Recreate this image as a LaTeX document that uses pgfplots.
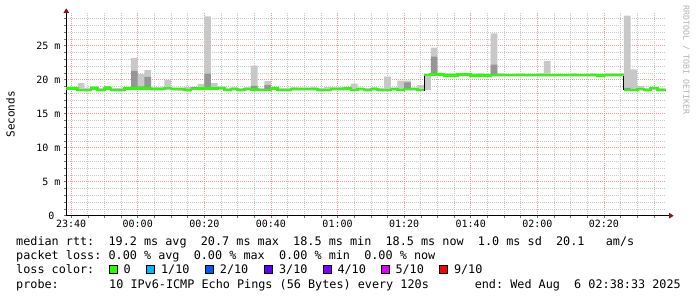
\documentclass[border=0pt]{standalone}
\usepackage{pgfplots}
\pgfplotsset{compat=1.18}
\usepackage{pgfplotstable}
\usepgfplotslibrary{fillbetween}
\usetikzlibrary{arrows.meta}
\usepackage{fontspec}
\setmainfont{DejaVu Sans Mono}
\newfontfamily\mono{DejaVu Sans Mono}
\newcommand\legfont{\mono\fontsize{11.8bp}{14bp}\selectfont}
\newcommand\tickfont{\mono\fontsize{10bp}{12bp}\selectfont}
\definecolor{mgrid}{RGB}{232,150,150}
\definecolor{sgrid}{RGB}{200,200,200}
\definecolor{smokeA}{RGB}{200,200,200}
\definecolor{smokeB}{RGB}{150,150,150}
\definecolor{medgreen}{RGB}{38,255,0}
\definecolor{lossA}{RGB}{0,184,255}
\definecolor{lossB}{RGB}{0,89,255}
\definecolor{lossC}{RGB}{94,0,255}
\definecolor{lossD}{RGB}{126,0,255}
\definecolor{lossE}{RGB}{221,0,255}
\definecolor{lossF}{RGB}{255,0,0}
\definecolor{arrowred}{RGB}{140,20,20}

\pgfplotstableread{
s    med    lo     hi     mlo    mhi
-22  18.70  18.45  18.95  18.70  18.70
-20  18.70  18.45  18.95  18.70  18.70
-18  18.45  18.30  19.50  18.45  18.45
-16  18.45  18.25  18.80  18.45  18.45
-14  18.70  18.45  18.97  18.60  18.97
-12  18.45  18.25  18.75  18.45  18.45
-10  18.70  18.45  19.07  18.60  19.00
-8   18.45  18.25  18.75  18.45  18.45
-6   18.45  18.25  18.75  18.45  18.45
-4   18.70  18.45  18.95  18.70  18.70
-2   18.70  18.45  23.20  18.70  21.30
0    18.70  18.45  20.80  18.70  19.00
2    18.70  18.45  21.40  18.70  20.40
4    18.60  18.40  18.90  18.60  18.60
6    18.60  18.40  18.90  18.60  18.60
8    18.75  18.50  19.95  18.75  18.75
10   18.60  18.40  18.85  18.60  18.60
12   18.60  18.35  18.85  18.60  18.60
14   18.45  18.25  18.90  18.45  18.45
16   18.65  18.45  18.95  18.60  18.90
18   18.70  18.45  19.35  18.70  18.70
20   18.70  18.45  29.30  18.70  20.90
22   18.70  18.45  19.50  18.70  18.70
24   18.75  18.50  19.00  18.75  18.75
26   18.50  18.30  18.80  18.50  18.50
28   18.60  18.40  18.90  18.60  18.60
30   18.45  18.25  18.75  18.45  18.45
32   18.60  18.40  18.90  18.60  18.60
34   18.55  18.35  22.06  18.55  19.07
36   18.50  18.30  18.80  18.50  18.50
38   18.50  18.30  19.80  18.50  19.20
40   18.70  18.45  18.95  18.70  18.70
42   18.45  18.25  18.75  18.45  18.45
44   18.45  18.25  18.75  18.45  18.45
46   18.60  18.40  18.90  18.60  18.60
48   18.60  18.40  18.85  18.60  18.60
50   18.60  18.40  18.85  18.60  18.60
52   18.60  18.40  18.90  18.60  18.60
54   18.45  18.25  18.75  18.45  18.45
56   18.45  18.25  18.90  18.45  18.45
58   18.60  18.40  18.90  18.60  18.60
60   18.60  18.40  18.90  18.60  18.60
62   18.70  18.45  18.95  18.70  18.70
64   18.50  18.30  19.40  18.50  18.50
66   18.60  18.40  18.85  18.60  18.60
68   18.45  18.25  18.75  18.45  18.45
70   18.60  18.40  18.90  18.60  18.60
72   18.45  18.25  18.75  18.45  18.45
74   18.45  18.25  20.45  18.45  18.45
76   18.60  18.40  18.85  18.60  18.60
78   18.50  18.30  19.85  18.50  18.50
80   18.60  18.40  19.85  18.60  19.60
82   18.60  18.40  18.85  18.60  18.60
84   18.45  18.45  19.20  18.45  18.45
86   20.70  18.50  20.90  20.70  20.70
88   20.80  20.55  24.70  20.80  23.40
90   20.80  20.55  21.00  20.80  20.80
92   20.60  20.40  21.00  20.60  20.60
94   20.60  20.40  20.95  20.60  20.60
96   20.75  20.50  20.95  20.75  20.75
98   20.75  20.50  20.95  20.75  20.75
100  20.65  20.45  20.90  20.65  20.65
102  20.65  20.45  20.95  20.65  20.65
104  20.60  20.40  20.85  20.60  20.60
106  20.70  20.45  26.80  20.70  22.20
108  20.70  20.45  20.95  20.70  20.70
110  20.70  20.45  20.90  20.70  20.70
112  20.70  20.45  20.90  20.70  20.70
114  20.70  20.45  20.95  20.70  20.70
116  20.70  20.45  20.90  20.70  20.70
118  20.70  20.45  20.90  20.70  20.70
120  20.70  20.45  20.95  20.70  20.70
122  20.70  20.45  22.75  20.70  20.70
124  20.70  20.45  20.90  20.70  20.70
126  20.70  20.45  20.90  20.70  20.70
128  20.70  20.45  20.90  20.70  20.70
130  20.70  20.45  20.95  20.70  20.70
132  20.70  20.45  20.90  20.70  20.70
134  20.70  20.45  20.90  20.70  20.70
136  20.70  20.45  20.95  20.70  20.70
138  20.60  20.40  20.85  20.60  20.60
140  20.70  20.45  20.95  20.70  20.70
142  20.70  20.45  20.95  20.70  20.70
144  20.70  20.45  20.95  20.70  20.70
146  18.50  18.40  29.40  18.50  18.80
148  18.45  18.30  21.50  18.45  18.45
150  18.60  18.40  19.10  18.60  18.60
152  18.45  18.25  18.75  18.45  18.45
154  18.75  18.50  18.95  18.75  18.75
156  18.45  18.25  18.75  18.45  18.45
158  18.45  18.25  18.75  18.45  18.45
160  18.45  18.25  18.75  18.45  18.45
}\smoke

\begin{document}
\begin{tikzpicture}
\path (0,0) rectangle (697bp,297bp);
\begin{axis}[
  at={(66.3bp,81.3bp)}, anchor=south west,
  scale only axis, width=599.4bp, height=202.7bp,
  xmin=-21.45, xmax=158.55, ymin=0, ymax=29.8,
  enlargelimits=false,
  axis lines=left,
  axis line style={black, line width=0.9bp},
  x axis line style={-{Triangle[width=5.4bp,length=4.5bp,color=arrowred]}, shorten >=-8bp},
  y axis line style={-{Triangle[width=5.4bp,length=4.5bp,color=arrowred]}, shorten >=-4.7bp},
  xtick={-20,0,20,40,60,80,100,120,140},
  xticklabels={23:40,00:00,00:20,00:40,01:00,01:20,01:40,02:00,02:20},
  minor xtick={-15,-10,-5,5,10,15,25,30,35,45,50,55,65,70,75,85,90,95,105,110,115,125,130,135,145,150,155},
  ytick={0,5,10,15,20,25},
  yticklabels={0~~,5~m,10~m,15~m,20~m,25~m},
  minor ytick={1,2,3,4,6,7,8,9,11,12,13,14,16,17,18,19,21,22,23,24,26,27,28,29},
  grid=both,
  major grid style={mgrid, line width=0.6bp, dash pattern=on 1bp off 1bp},
  minor grid style={sgrid, line width=0.6bp, dash pattern=on 1bp off 1bp},
  tick align=outside,
  major tick length=2bp, minor tick length=2bp,
  tick style={black!55, line width=0.5bp},
  xticklabel style={font=\tickfont, inner sep=0pt, anchor=north, yshift=-2.5bp},
  yticklabel style={font=\tickfont, inner sep=0pt, anchor=east, xshift=-3.6bp},
  ylabel={Seconds},
  every axis y label/.style={at={(axis description cs:0,0.5)}, xshift=-55.8bp, rotate=90, anchor=center, font=\mono\fontsize{11bp}{13bp}\selectfont},
]
\addplot[const plot, draw=none, name path=hiA, forget plot] table[x=s,y=hi]{\smoke};
\addplot[const plot, draw=none, name path=loA, forget plot] table[x=s,y=lo]{\smoke};
\addplot[fill=smokeA, draw=none, forget plot] fill between[of=hiA and loA];
\addplot[const plot, draw=none, name path=hiB, forget plot] table[x=s,y=mhi]{\smoke};
\addplot[const plot, draw=none, name path=loB, forget plot] table[x=s,y=mlo]{\smoke};
\addplot[fill=smokeB, draw=none, forget plot] fill between[of=hiB and loB];
\addplot[const plot, black, line width=1bp] table[x=s,y=med]{\smoke};
\addplot[const plot, medgreen, line width=2.6bp] coordinates {
(-22,18.70) (-20,18.70) (-18,18.45) (-16,18.45) (-14,18.70) (-12,18.45) (-10,18.70) (-8,18.45)
(-6,18.45) (-4,18.70) (-2,18.70) (0,18.70) (2,18.70) (4,18.60) (6,18.60) (8,18.75) (10,18.60)
(12,18.60) (14,18.45) (16,18.65) (18,18.70) (20,18.70) (22,18.70) (24,18.75) (26,18.50) (28,18.60)
(30,18.45) (32,18.60) (34,18.55) (36,18.50) (38,18.50) (40,18.70) (42,18.45) (44,18.45) (46,18.60)
(48,18.60) (50,18.60) (52,18.60) (54,18.45) (56,18.45) (58,18.60) (60,18.60) (62,18.70) (64,18.50)
(66,18.60) (68,18.45) (70,18.60) (72,18.45) (74,18.45) (76,18.60) (78,18.50) (80,18.60) (82,18.60)
(84,18.45) (86,18.45)};
\addplot[const plot, medgreen, line width=2.6bp] coordinates {
(86,20.70) (88,20.80) (90,20.80) (92,20.60) (94,20.60) (96,20.75) (98,20.75) (100,20.65) (102,20.65)
(104,20.60) (106,20.70) (108,20.70) (110,20.70) (112,20.70) (114,20.70) (116,20.70) (118,20.70)
(120,20.70) (122,20.70) (124,20.70) (126,20.70) (128,20.70) (130,20.70) (132,20.70) (134,20.70)
(136,20.70) (138,20.60) (140,20.70) (142,20.70) (144,20.70) (146,20.70)};
\addplot[const plot, medgreen, line width=2.6bp] coordinates {
(146,18.50) (148,18.45) (150,18.60) (152,18.45) (154,18.75) (156,18.45) (158,18.45) (160,18.45)};
\end{axis}

% watermark
\node[rotate=-90, text=black!30, font=\mono\fontsize{8.3bp}{10bp}\selectfont, inner sep=0pt] at (686bp,237bp) {RRDTOOL / TOBI OETIKER};

% legend text
\node[anchor=base west, inner sep=0pt] at (16bp,51.5bp) {\legfont median~rtt:~~19.2~ms~avg~~20.7~ms~max~~18.5~ms~min~~18.5~ms~now~~1.0~ms~sd~~20.1~~~am/s};
\node[anchor=base west, inner sep=0pt] at (16bp,37.3bp) {\legfont packet~loss:~0.00~\%~avg~~0.00~\%~max~~0.00~\%~min~~0.00~\%~now};
\node[anchor=base west, inner sep=0pt] at (16bp,23.2bp) {\legfont loss~color:};
\foreach \bx/\col/\lab in {109/medgreen/0, 146.6/lossA/1\slash10, 205.4/lossB/2\slash10, 264.6/lossC/3\slash10, 323/lossD/4\slash10, 381/lossE/5\slash10, 439.5/lossF/9\slash10}{
  \filldraw[fill=\col, draw=black, line width=0.8bp] (\bx bp,23.6bp) rectangle ++(8.2bp,8.2bp);
  \node[anchor=base west, inner sep=0pt] at (\bx bp+14.3bp,23.2bp) {\legfont \lab};
}
\node[anchor=base west, inner sep=0pt] at (16bp,8.9bp) {\legfont probe:};
\node[anchor=base west, inner sep=0pt] at (109bp,8.9bp) {\legfont 10~IPv6-ICMP~Echo~Pings~(56~Bytes)~every~120s};
\node[anchor=base east, inner sep=0pt] at (681bp,8.9bp) {\legfont end:~Wed~Aug~~6~02:38:33~2025};
\pgfresetboundingbox
\useasboundingbox (0,0) rectangle (697bp,297bp);
\end{tikzpicture}
\end{document}
